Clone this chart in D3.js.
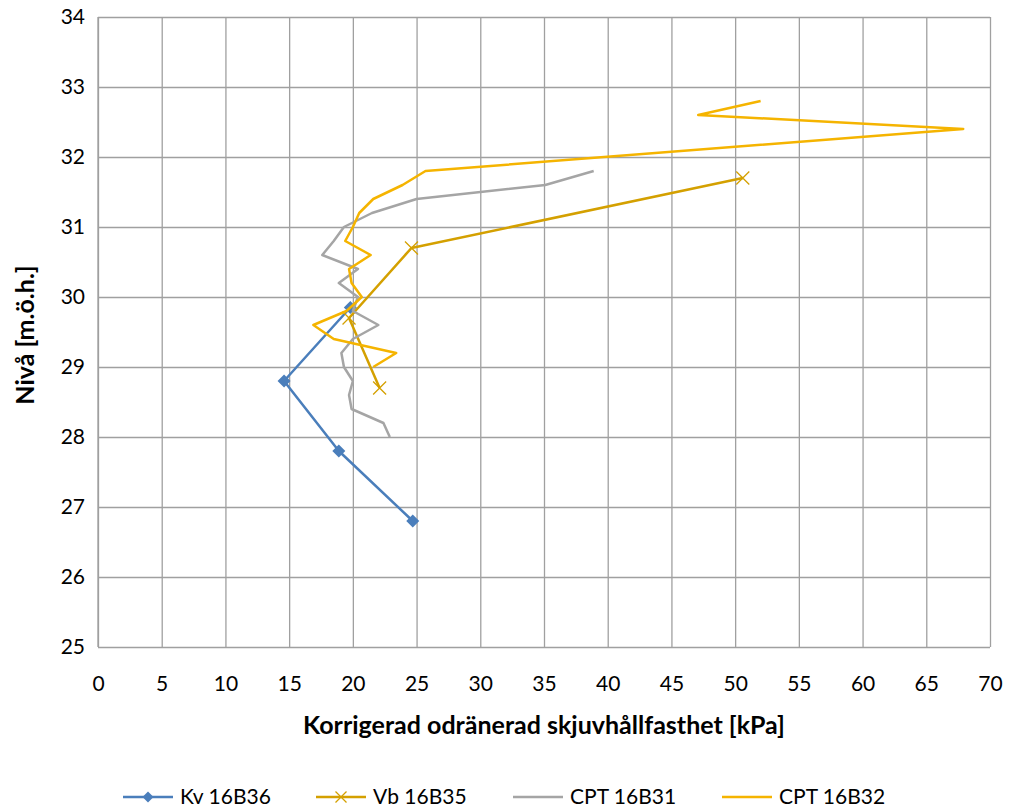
<!DOCTYPE html>
<html>
<head>
<meta charset="utf-8">
<script src="https://cdn.jsdelivr.net/npm/d3@7"></script>
<style>
  body { margin: 0; background: #fff; }
  svg text { font-family: Lato, "Liberation Sans", Arial, sans-serif; fill: #000; }
</style>
</head>
<body>
<svg id="chart" width="1010" height="812"></svg>
<script>
// kPa on x, level (m.ö.h.) on y
var kv16B36 = [[19.8, 29.85], [14.6, 28.8], [18.9, 27.8], [24.7, 26.8]];
var vb16B35 = [[50.6, 31.7], [24.6, 30.7], [19.7, 29.7], [22.1, 28.7]];
var cpt16B31 = [
    [38.9, 31.8], [35.1, 31.6], [25.0, 31.4], [21.5, 31.2], [19.3, 31.0],
    [18.5, 30.8], [17.6, 30.6], [20.4, 30.4], [18.9, 30.2], [20.4, 30.0],
    [20.0, 29.8], [22.0, 29.6], [20.0, 29.4], [19.1, 29.2], [19.3, 29.0],
    [20.0, 28.8], [19.7, 28.6], [19.9, 28.4], [22.4, 28.2], [22.9, 28.0]
];
var cpt16B32 = [
    [52.0, 32.8], [47.1, 32.6], [67.9, 32.4], [25.7, 31.8], [23.9, 31.6],
    [21.6, 31.4], [20.5, 31.2], [20.0, 31.0], [19.4, 30.8], [21.4, 30.6],
    [19.7, 30.4], [19.9, 30.2], [20.7, 30.0], [19.5, 29.8], [16.9, 29.6],
    [18.5, 29.4], [23.4, 29.2], [21.6, 29.0]
];
var xTicks = d3.range(0, 71, 5);
var yTicks = d3.range(25, 35, 1);

var series = [
    { name: "Kv 16B36", data: kv16B36, color: "#4A7EBB", marker: "diamond" },
    { name: "Vb 16B35", data: vb16B35, color: "#D4A000", marker: "cross" },
    { name: "CPT 16B31", data: cpt16B31, color: "#A5A5A5", marker: null },
    { name: "CPT 16B32", data: cpt16B32, color: "#F5B400", marker: null }
];

var plot = { left: 98, right: 990, top: 17, bottom: 647 };
var gridColor = "#A0A0A0";

var svg = d3.select("#chart");
var x = d3.scaleLinear().domain([0, 70]).range([plot.left, plot.right]);
var y = d3.scaleLinear().domain([25, 34]).range([plot.bottom, plot.top]);

var drawMarker = function(sel, type, color, r) {
    if (type === "diamond") {
        sel.append("path")
            .attr("d", "M0," + (-r) + "L" + r + ",0L0," + r + "L" + (-r) + ",0Z")
            .attr("fill", color);
    } else if (type === "cross") {
        sel.append("path")
            .attr("d", "M" + (-r) + "," + (-r) + "L" + r + "," + r + "M" + (-r) + "," + r + "L" + r + "," + (-r))
            .attr("stroke", color)
            .attr("stroke-width", 1.3)
            .attr("fill", "none");
    }
};

// grid via axes
var xGrid = svg.append("g")
    .attr("transform", "translate(0," + plot.bottom + ")")
    .call(d3.axisBottom(x).tickValues(xTicks).tickSize(-(plot.bottom - plot.top)).tickFormat(""));
var yGrid = svg.append("g")
    .attr("transform", "translate(" + plot.left + ",0)")
    .call(d3.axisLeft(y).tickValues(yTicks).tickSize(-(plot.right - plot.left)).tickFormat(""));
[xGrid, yGrid].forEach(function(g) {
    g.select(".domain").remove();
    g.selectAll(".tick line").attr("stroke", gridColor).attr("stroke-width", 1.3);
});
svg.append("line")
    .attr("x1", plot.left).attr("x2", plot.left)
    .attr("y1", plot.top).attr("y2", plot.bottom)
    .attr("stroke", gridColor).attr("stroke-width", 1.3);

// tick labels
var xAxis = svg.append("g")
    .attr("transform", "translate(0," + plot.bottom + ")")
    .call(d3.axisBottom(x).tickValues(xTicks).tickSize(0).tickPadding(29));
var yAxis = svg.append("g")
    .attr("transform", "translate(" + plot.left + ",0)")
    .call(d3.axisLeft(y).tickValues(yTicks).tickSize(0).tickPadding(13));
[xAxis, yAxis].forEach(function(g) {
    g.select(".domain").remove();
    g.selectAll("text").style("font-size", "21px").style("font-family", null);
});

// series
var line = d3.line()
    .x(function(d) { return x(d[0]); })
    .y(function(d) { return y(d[1]); });

series.forEach(function(s) {
    svg.append("path")
        .datum(s.data)
        .attr("d", line)
        .attr("fill", "none")
        .attr("stroke", s.color)
        .attr("stroke-width", 2.5)
        .attr("stroke-linejoin", "round");
    if (s.marker) {
        s.data.forEach(function(d) {
            var m = svg.append("g").attr("transform", "translate(" + x(d[0]) + "," + y(d[1]) + ")");
            drawMarker(m, s.marker, s.color, 6.5);
        });
    }
});

// axis titles
svg.append("text")
    .attr("x", 544)
    .attr("y", 734)
    .attr("text-anchor", "middle")
    .style("font-size", "25px")
    .style("font-weight", "bold")
    .text("Korrigerad odränerad skjuvhållfasthet [kPa]");
svg.append("text")
    .attr("transform", "translate(34," + 335 + ") rotate(-90)")
    .attr("text-anchor", "middle")
    .style("font-size", "25px")
    .style("font-weight", "bold")
    .text("Nivå [m.ö.h.]");

// legend
var legendX = [123, 316, 513, 722];
var legend = svg.append("g").attr("transform", "translate(0,797)");
series.forEach(function(s, i) {
    var g = legend.append("g").attr("transform", "translate(" + legendX[i] + ",0)");
    g.append("line")
        .attr("x1", 0).attr("x2", 50)
        .attr("stroke", s.color).attr("stroke-width", 2.5);
    if (s.marker) {
        var m = g.append("g").attr("transform", "translate(25,0)");
        drawMarker(m, s.marker, s.color, 5.5);
    }
    g.append("text")
        .attr("x", 57)
        .attr("dy", "0.35em")
        .style("font-size", "21px")
        .text(s.name);
});
</script>
</body>
</html>
